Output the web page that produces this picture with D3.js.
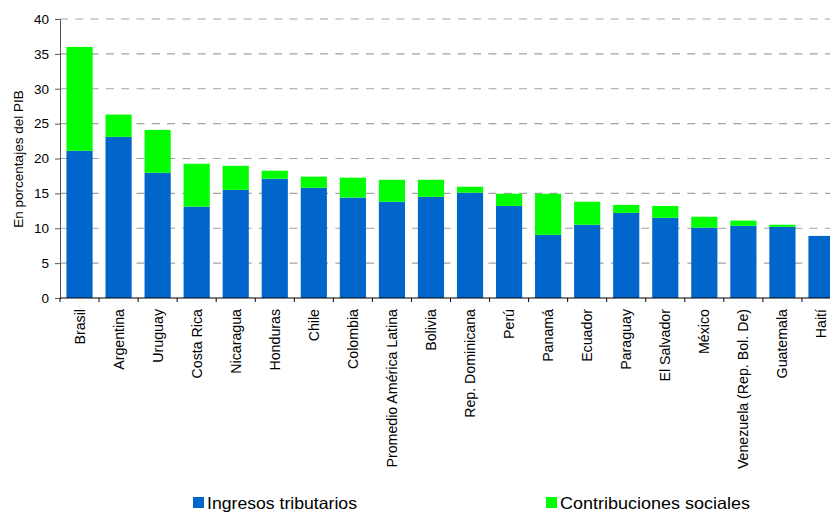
<!DOCTYPE html>
<html>
<head>
<meta charset="utf-8">
<script src="https://cdn.jsdelivr.net/npm/d3@7"></script>
<style>
  body { margin: 0; background: #fff; }
  svg { display: block; font-family: "Liberation Sans", Arial, sans-serif; }
</style>
</head>
<body>
<div id="chart"></div>
<script>
// countries, sorted by total tax burden
const countries = ["Brasil", "Argentina", "Uruguay", "Costa Rica", "Nicaragua", "Honduras",
  "Chile", "Colombia", "Promedio América Latina", "Bolivia", "Rep. Dominicana", "Perú",
  "Panamá", "Ecuador", "Paraguay", "El Salvador", "México", "Venezuela (Rep. Bol. De)",
  "Guatemala", "Haití"]

// tax revenue (% of GDP)
const ingresos = [21.1, 23.1, 17.95, 13.1, 15.5, 17.1, 15.8, 14.4, 13.8, 14.5, 15.1, 13.2,
  9.05, 10.5, 12.2, 11.5, 10.1, 10.35, 10.2, 8.9]

// social contributions (% of GDP)
const contribuciones = [14.9, 3.2, 6.15, 6.15, 3.45, 1.15, 1.6, 2.85, 3.15, 2.45, 0.85, 1.75,
  5.9, 3.3, 1.15, 1.7, 1.55, 0.75, 0.3, 0]

const yTicks = [0, 5, 10, 15, 20, 25, 30, 35, 40]
const seriesNames = ["Ingresos tributarios", "Contribuciones sociales"]
const colors = ["#0066CC", "#00FF00"]

let width = 830, height = 512
let margin = { top: 19, left: 60, bottom: 214 }
let plotRight = 841
let plotBottom = height - margin.bottom

let svg = d3.select("#chart")
  .append("svg")
    .attr("width", width)
    .attr("height", height)

// one row per country for the stack
let rows = countries.map((c, i) => ({ pais: c, ingresos: ingresos[i], contribuciones: contribuciones[i] }))
let stacked = d3.stack().keys(["ingresos", "contribuciones"])(rows)

// step scale for ticks, inner scale for bars
let xStep = d3.scaleBand()
  .domain(countries)
  .range([margin.left, plotRight])
  .padding(0)

let xBar = d3.scaleBand()
  .domain(countries)
  .range([margin.left, plotRight])
  .paddingInner(0.33)
  .paddingOuter(0.165)

let yScale = d3.scaleLinear()
  .domain([0, 40])
  .range([plotBottom, margin.top])

// dashed gridlines
svg.append("g")
  .selectAll("line")
  .data(yTicks.filter(d => d > 0))
  .enter().append("line")
    .attr("x1", margin.left)
    .attr("x2", width)
    .attr("y1", d => yScale(d))
    .attr("y2", d => yScale(d))
    .attr("stroke", "#a3a3a3")
    .attr("stroke-width", 1.2)
    .attr("stroke-dasharray", "8,7.3")

// bars
svg.append("g")
  .selectAll("g")
  .data(stacked)
  .enter().append("g")
    .attr("fill", (d, i) => colors[i])
  .selectAll("rect")
  .data(d => d)
  .enter().append("rect")
    .attr("x", d => xBar(d.data.pais))
    .attr("width", xBar.bandwidth())
    .attr("y", d => yScale(d[1]))
    .attr("height", d => yScale(d[0]) - yScale(d[1]))

// y axis
let yAxis = svg.append("g")
  .attr("transform", "translate(" + margin.left + ",0)")
  .call(d3.axisLeft(yScale).tickValues(yTicks).tickSize(5).tickPadding(6))
yAxis.select(".domain").attr("stroke", "#555")
yAxis.selectAll(".tick line").attr("stroke", "#555")
yAxis.selectAll("text")
  .style("font-size", "13.5px")
  .style("font-family", "Liberation Sans, Arial, sans-serif")
  .attr("fill", "#000")

// x axis line and boundary ticks
svg.append("line")
  .attr("x1", margin.left)
  .attr("x2", width)
  .attr("y1", plotBottom)
  .attr("y2", plotBottom)
  .attr("stroke", "#000")
  .attr("stroke-width", 1.2)

svg.append("g")
  .selectAll("line")
  .data(countries)
  .enter().append("line")
    .attr("x1", d => xStep(d))
    .attr("x2", d => xStep(d))
    .attr("y1", plotBottom)
    .attr("y2", plotBottom + 4)
    .attr("stroke", "#000")

// rotated category labels
svg.append("g")
  .selectAll("text")
  .data(countries)
  .enter().append("text")
    .attr("transform", d => "translate(" + (xStep(d) + xStep.bandwidth() / 2) + "," + (plotBottom + 11) + ") rotate(-90)")
    .attr("text-anchor", "end")
    .attr("dy", "0.35em")
    .style("font-size", "14.2px")
    .text(d => d)

// y axis title
svg.append("text")
  .attr("transform", "translate(18,159) rotate(-90)")
  .attr("text-anchor", "middle")
  .attr("dy", "0.35em")
  .style("font-size", "13.5px")
  .text("En porcentajes del PIB")

// legend
let legendX = [193, 546]
let legendW = [150, 190]
let legend = svg.append("g")
  .selectAll("g")
  .data(seriesNames)
  .enter().append("g")
    .attr("transform", (d, i) => "translate(" + legendX[i] + ",497)")

legend.append("rect")
  .attr("width", 11)
  .attr("height", 11)
  .attr("fill", (d, i) => colors[i])

legend.append("text")
  .attr("x", 14)
  .attr("y", 12)
  .attr("textLength", (d, i) => legendW[i])
  .attr("lengthAdjust", "spacingAndGlyphs")
  .style("font-size", "16.5px")
  .text(d => d)
</script>
</body>
</html>
